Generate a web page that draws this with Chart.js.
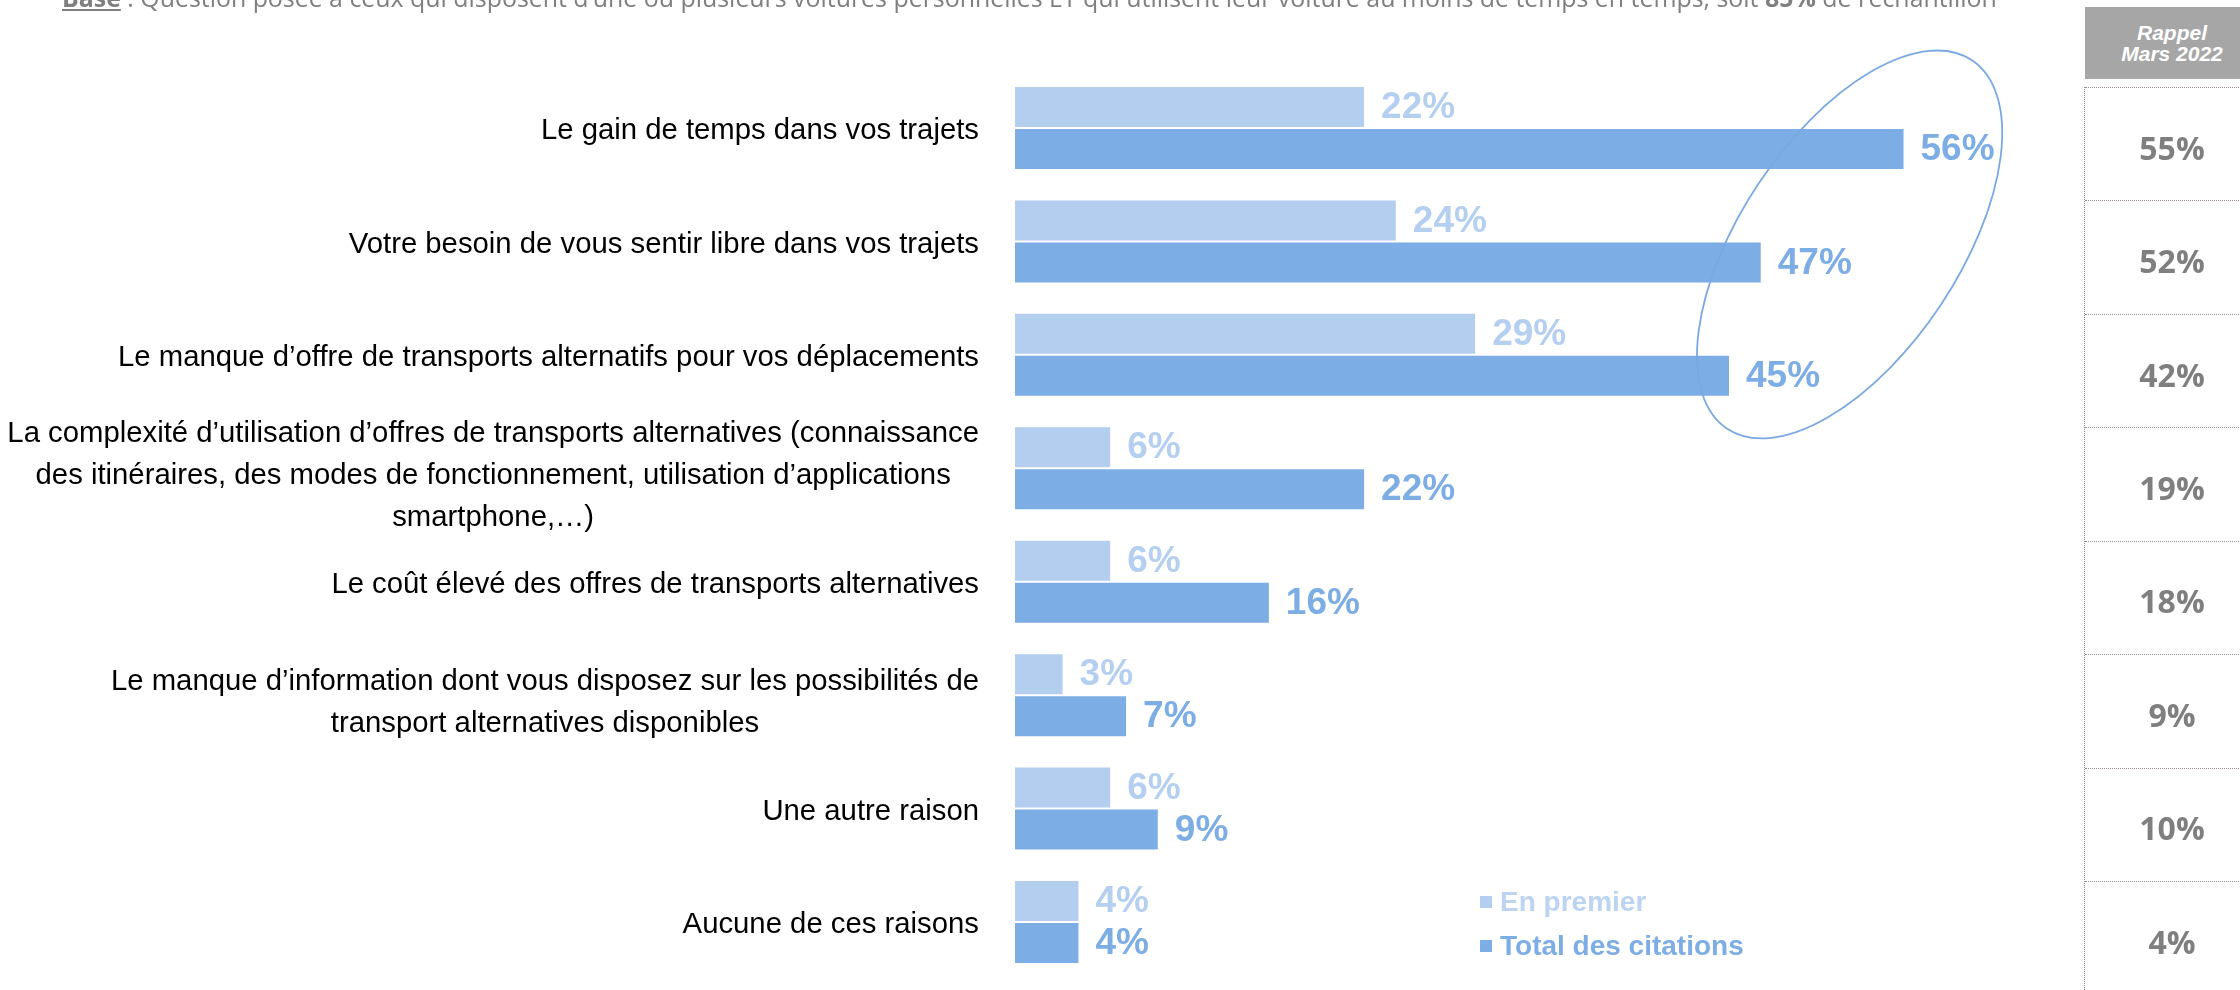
<!DOCTYPE html>
<html lang="fr">
<head>
<meta charset="utf-8">
<title>Raisons d'utilisation de la voiture</title>
<script src="https://cdn.jsdelivr.net/npm/chart.js@4.4.1/dist/chart.umd.min.js"></script>
<style>
  html, body { margin: 0; padding: 0; background: #fff; }
  body { width: 2240px; height: 990px; position: relative; overflow: hidden; font-family: "Liberation Sans", Arial, sans-serif; }
  #chart { position: absolute; left: 0; top: 0; }
  #note { position: absolute; left: 62px; top: 0; white-space: nowrap; color: #7f7f7f; font-family: "Open Sans", sans-serif; line-height: 1; transform-origin: left top; }
  #note b { font-weight: 700; }
  #head { position: absolute; left: 2085px; top: 7px; width: 174px; height: 72px; background: #a6a6a6; color: #fff;
          font: italic bold 21px "Liberation Sans", Arial, sans-serif; line-height: 21px; text-align: center;
          display: flex; flex-direction: column; justify-content: center; }
  #panel { position: absolute; left: 2084px; width: 200px; border-left: 1px dotted #958a83; }
  .cell { position: absolute; left: 0; width: 174px; border-top: 1px dotted #958a83; display: flex; align-items: center; justify-content: center;
          font: bold 32px "Open Sans", sans-serif; color: #7f7f7f; box-sizing: border-box; padding-top: 6px; }
  .leg { position: absolute; left: 1480px; display: flex; align-items: center; font: bold 28px "Liberation Sans", Arial, sans-serif; }
  .leg i { display: inline-block; width: 12px; height: 12px; margin-right: 8px; }
</style>
</head>
<body>
<canvas id="chart" width="2240" height="990"></canvas>
<div id="note"><b><u>Base</u></b> : Question posée à ceux qui disposent d’une ou plusieurs voitures personnelles ET qui utilisent leur voiture au moins de temps en temps, soit <b>85%</b> de l’échantillon</div>
<div id="head"></div>
<div id="panel"></div>
<script>
// categories (multi-line labels kept as arrays of lines)
const categories = [
  ['Le gain de temps dans vos trajets'],
  ['Votre besoin de vous sentir libre dans vos trajets'],
  ['Le manque d’offre de transports alternatifs pour vos déplacements'],
  ['La complexité d’utilisation d’offres de transports alternatives (connaissance',
   'des itinéraires, des modes de fonctionnement, utilisation d’applications',
   'smartphone,…)'],
  ['Le coût élevé des offres de transports alternatives'],
  ['Le manque d’information dont vous disposez sur les possibilités de',
   'transport alternatives disponibles'],
  ['Une autre raison'],
  ['Aucune de ces raisons']
];
const seriesNames = ['En premier', 'Total des citations'];
const firstValues = [22, 24, 29, 6, 6, 3, 6, 4];
const totalValues = [56, 47, 45, 22, 16, 7, 9, 4];
const rappelTitle = ['Rappel', 'Mars 2022'];
const rappelValues = [55, 52, 42, 19, 18, 9, 10, 4];

const barColors = ['#b4cef0', '#7dade5'];
const labelColors = ['#b4cff0', '#7dade5'];
const legendColors = ['#bcd4f2', '#7dade5'];

// labels, values and the highlight ellipse drawn on top of the bars
const overlay = {
  id: 'overlay',
  afterDatasetsDraw(chart) {
    const ctx = chart.ctx;
    const x = chart.scales.x, y = chart.scales.y;
    ctx.save();

    // category labels: block right aligned, lines centered inside the block
    ctx.font = '29.3px "Liberation Sans", Arial, sans-serif';
    ctx.fillStyle = '#000';
    ctx.textAlign = 'center';
    ctx.textBaseline = 'middle';
    const right = x.left - 36;
    categories.forEach((lines, i) => {
      const widest = Math.max(...lines.map(l => ctx.measureText(l).width));
      const cx = right - widest / 2;
      const cy = y.getPixelForValue(i) + (lines.length > 1 ? 8 : 3);
      lines.forEach((l, k) => {
        ctx.fillText(l, cx, cy + (k - (lines.length - 1) / 2) * 42);
      });
    });

    // value labels
    ctx.font = 'bold 37px "Liberation Sans", Arial, sans-serif';
    ctx.textAlign = 'left';
    chart.data.datasets.forEach((ds, d) => {
      ctx.fillStyle = labelColors[d];
      chart.getDatasetMeta(d).data.forEach((bar, i) => {
        ctx.fillText(ds.data[i] + '%', bar.x + 17, bar.y + 1);
      });
    });

    // ellipse round the three first totals
    const step = y.getPixelForValue(1) - y.getPixelForValue(0);
    const ecx = x.getPixelForValue(52.6);
    const ecy = y.getPixelForValue(1) + 3;
    const rx = x.getPixelForValue(6.9) - x.getPixelForValue(0);
    const ry = step * 1.95;
    ctx.beginPath();
    ctx.ellipse(ecx, ecy, rx, ry, 33.6 * Math.PI / 180, 0, Math.PI * 2);
    ctx.strokeStyle = '#7aa9e2';
    ctx.lineWidth = 1.8;
    ctx.stroke();
    ctx.restore();
  }
};

const chart = new Chart(document.getElementById('chart'), {
  type: 'bar',
  data: {
    labels: categories,
    datasets: [
      { label: seriesNames[0], data: firstValues, backgroundColor: barColors[0] },
      { label: seriesNames[1], data: totalValues, backgroundColor: barColors[1] }
    ]
  },
  options: {
    indexAxis: 'y',
    responsive: false,
    animation: false,
    events: [],
    layout: { padding: { left: 0, right: 273, top: 71.3, bottom: 11.3 } },
    datasets: { bar: { categoryPercentage: 0.7405, barPercentage: 0.952 } },
    plugins: { legend: { display: false }, tooltip: { enabled: false } },
    scales: {
      x: { display: false, min: 0, max: 60 },
      y: {
        grid: { display: false, drawTicks: false },
        border: { display: false },
        ticks: { display: false },
        afterFit(scale) { scale.width = 1015; }
      }
    }
  },
  plugins: [overlay]
});

// note at the very top, only its lower part is visible
const note = document.getElementById('note');
note.style.fontSize = '30px';
const w = note.scrollWidth;
note.style.fontSize = (30 * 1936 / w) + 'px';
const probe = document.createElement('span');
probe.style.display = 'inline-block';
probe.style.height = '0';
note.appendChild(probe);
note.style.top = (7 - probe.offsetTop) + 'px';

// "Rappel" column
document.getElementById('head').innerHTML = rappelTitle.map(t => '<div>' + t + '</div>').join('');
const ys = chart.scales.y;
const step = ys.getPixelForValue(1) - ys.getPixelForValue(0);
const panelTop = ys.getPixelForValue(0) - step / 2 + 15.7;
const panel = document.getElementById('panel');
panel.style.top = panelTop + 'px';
panel.style.height = (990 - panelTop) + 'px';
rappelValues.forEach((v, i) => {
  const c = document.createElement('div');
  c.className = 'cell';
  c.style.top = (ys.getPixelForValue(i) - ys.getPixelForValue(0)) + 'px';
  c.style.height = step + 'px';
  c.textContent = v + '%';
  panel.appendChild(c);
});

// legend
const legendY = [902, 946];
seriesNames.forEach((name, d) => {
  const l = document.createElement('div');
  l.className = 'leg';
  l.style.top = (legendY[d] - 17) + 'px';
  l.style.height = '34px';
  l.style.color = legendColors[d];
  l.innerHTML = '<i style="background:' + barColors[d] + '"></i>' + name;
  document.body.appendChild(l);
});
</script>
</body>
</html>
